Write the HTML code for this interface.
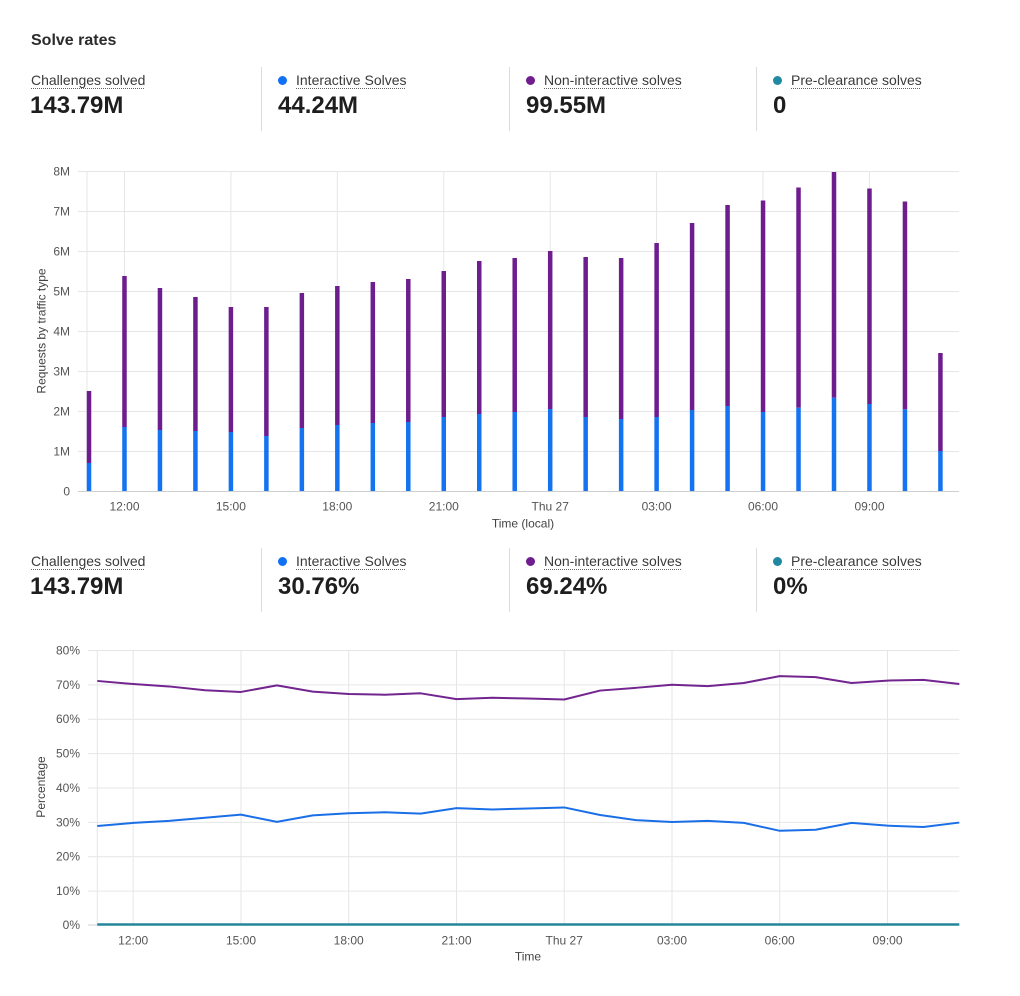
<!DOCTYPE html>
<html><head><meta charset="utf-8"><style>
html,body{margin:0;padding:0;background:#fff;}
body{width:1020px;height:996px;position:relative;overflow:hidden;font-family:"Liberation Sans",sans-serif;color:#222;}
.t{position:absolute;white-space:nowrap;}
.title{left:31px;top:31px;font-size:16px;line-height:20px;font-weight:bold;color:#2b2b2b;}
.lab{font-size:14px;line-height:16px;color:#3a3a3a;text-decoration:underline dotted #666;text-underline-offset:3px;text-decoration-thickness:1px;}
.val{font-size:24px;line-height:28px;font-weight:bold;color:#1e1e1e;}
.sep{position:absolute;width:1px;background:#dcdcdc;height:64px;}
.dot{position:absolute;width:9px;height:9px;border-radius:50%;}
svg{position:absolute;left:0;top:0;}
svg text{font-family:"Liberation Sans",sans-serif;}
</style></head><body>
<div class="t title">Solve rates</div>

<!-- row 1 -->
<div class="t lab" style="left:31px;top:71.5px;">Challenges solved</div>
<div class="t val" style="left:30px;top:92px;">143.79M</div>
<div class="sep" style="left:261px;top:67px;"></div>
<div class="dot" style="left:278px;top:75.5px;background:#1170f4;"></div>
<div class="t lab" style="left:296px;top:71.5px;">Interactive Solves</div>
<div class="t val" style="left:278px;top:92px;">44.24M</div>
<div class="sep" style="left:509px;top:67px;"></div>
<div class="dot" style="left:526px;top:75.5px;background:#6f1d8f;"></div>
<div class="t lab" style="left:544px;top:71.5px;">Non-interactive solves</div>
<div class="t val" style="left:526px;top:92px;">99.55M</div>
<div class="sep" style="left:756px;top:67px;"></div>
<div class="dot" style="left:773px;top:75.5px;background:#2089a1;"></div>
<div class="t lab" style="left:791px;top:71.5px;">Pre-clearance solves</div>
<div class="t val" style="left:773px;top:92px;">0</div>

<!-- row 2 -->
<div class="t lab" style="left:31px;top:552.5px;">Challenges solved</div>
<div class="t val" style="left:30px;top:573px;">143.79M</div>
<div class="sep" style="left:261px;top:548px;"></div>
<div class="dot" style="left:278px;top:556.5px;background:#1170f4;"></div>
<div class="t lab" style="left:296px;top:552.5px;">Interactive Solves</div>
<div class="t val" style="left:278px;top:573px;">30.76%</div>
<div class="sep" style="left:509px;top:548px;"></div>
<div class="dot" style="left:526px;top:556.5px;background:#6f1d8f;"></div>
<div class="t lab" style="left:544px;top:552.5px;">Non-interactive solves</div>
<div class="t val" style="left:526px;top:573px;">69.24%</div>
<div class="sep" style="left:756px;top:548px;"></div>
<div class="dot" style="left:773px;top:556.5px;background:#2089a1;"></div>
<div class="t lab" style="left:791px;top:552.5px;">Pre-clearance solves</div>
<div class="t val" style="left:773px;top:573px;">0%</div>

<svg width="1020" height="996" viewBox="0 0 1020 996" xmlns="http://www.w3.org/2000/svg">
<!-- TOP CHART -->
<g stroke="#e6e6e6" stroke-width="1">
<line x1="78" y1="171.5" x2="959" y2="171.5"/>
<line x1="78" y1="211.5" x2="959" y2="211.5"/>
<line x1="78" y1="251.5" x2="959" y2="251.5"/>
<line x1="78" y1="291.5" x2="959" y2="291.5"/>
<line x1="78" y1="331.5" x2="959" y2="331.5"/>
<line x1="78" y1="371.5" x2="959" y2="371.5"/>
<line x1="78" y1="411.5" x2="959" y2="411.5"/>
<line x1="78" y1="451.5" x2="959" y2="451.5"/>
<line x1="87" y1="171" x2="87" y2="491"/>
<line x1="124.5" y1="171" x2="124.5" y2="491"/>
<line x1="230.9" y1="171" x2="230.9" y2="491"/>
<line x1="337.3" y1="171" x2="337.3" y2="491"/>
<line x1="443.8" y1="171" x2="443.8" y2="491"/>
<line x1="550.2" y1="171" x2="550.2" y2="491"/>
<line x1="656.6" y1="171" x2="656.6" y2="491"/>
<line x1="763" y1="171" x2="763" y2="491"/>
<line x1="869.5" y1="171" x2="869.5" y2="491"/>
</g>
<line x1="78" y1="491.5" x2="959" y2="491.5" stroke="#cfcfcf" stroke-width="1"/>
<g font-size="12" fill="#555" text-anchor="end">
<text x="70" y="175.5">8M</text>
<text x="70" y="215.5">7M</text>
<text x="70" y="255.5">6M</text>
<text x="70" y="295.5">5M</text>
<text x="70" y="335.5">4M</text>
<text x="70" y="375.5">3M</text>
<text x="70" y="415.5">2M</text>
<text x="70" y="455.5">1M</text>
<text x="70" y="495.5">0</text>
</g>
<g font-size="12" fill="#555" text-anchor="middle">
<text x="124.5" y="510.5">12:00</text>
<text x="230.9" y="510.5">15:00</text>
<text x="337.3" y="510.5">18:00</text>
<text x="443.8" y="510.5">21:00</text>
<text x="550.2" y="510.5">Thu 27</text>
<text x="656.6" y="510.5">03:00</text>
<text x="763" y="510.5">06:00</text>
<text x="869.5" y="510.5">09:00</text>
<text x="523" y="527.5" fill="#444">Time (local)</text>
<text transform="translate(45.5,331) rotate(-90)" fill="#444">Requests by traffic type</text>
</g>
<!-- bars -->
<g fill="#6e1d8f">
<rect x="86.75" y="391" width="4.5" height="72"/>
<rect x="122.23" y="276" width="4.5" height="151"/>
<rect x="157.70" y="288" width="4.5" height="142"/>
<rect x="193.18" y="297" width="4.5" height="134"/>
<rect x="228.65" y="307" width="4.5" height="125"/>
<rect x="264.13" y="307" width="4.5" height="129"/>
<rect x="299.61" y="293" width="4.5" height="135"/>
<rect x="335.08" y="286" width="4.5" height="139"/>
<rect x="370.56" y="282" width="4.5" height="141"/>
<rect x="406.03" y="279" width="4.5" height="143"/>
<rect x="441.51" y="271" width="4.5" height="146"/>
<rect x="476.99" y="261" width="4.5" height="153"/>
<rect x="512.46" y="258" width="4.5" height="154"/>
<rect x="547.94" y="251" width="4.5" height="158"/>
<rect x="583.41" y="257" width="4.5" height="160"/>
<rect x="618.89" y="258" width="4.5" height="161"/>
<rect x="654.37" y="243" width="4.5" height="174"/>
<rect x="689.84" y="223" width="4.5" height="187"/>
<rect x="725.32" y="205" width="4.5" height="201"/>
<rect x="760.79" y="200.5" width="4.5" height="211.5"/>
<rect x="796.27" y="187.5" width="4.5" height="220.2"/>
<rect x="831.75" y="172" width="4.5" height="225.7"/>
<rect x="867.22" y="188.5" width="4.5" height="215.5"/>
<rect x="902.70" y="201.5" width="4.5" height="207.8"/>
<rect x="938.17" y="353" width="4.5" height="98"/>
</g>
<g fill="#1473f0">
<rect x="86.75" y="463" width="4.5" height="28"/>
<rect x="122.23" y="427" width="4.5" height="64"/>
<rect x="157.70" y="430" width="4.5" height="61"/>
<rect x="193.18" y="431" width="4.5" height="60"/>
<rect x="228.65" y="432" width="4.5" height="59"/>
<rect x="264.13" y="436" width="4.5" height="55"/>
<rect x="299.61" y="428" width="4.5" height="63"/>
<rect x="335.08" y="425" width="4.5" height="66"/>
<rect x="370.56" y="423" width="4.5" height="68"/>
<rect x="406.03" y="422" width="4.5" height="69"/>
<rect x="441.51" y="417" width="4.5" height="74"/>
<rect x="476.99" y="414" width="4.5" height="77"/>
<rect x="512.46" y="412" width="4.5" height="79"/>
<rect x="547.94" y="409" width="4.5" height="82"/>
<rect x="583.41" y="417" width="4.5" height="74"/>
<rect x="618.89" y="419" width="4.5" height="72"/>
<rect x="654.37" y="417" width="4.5" height="74"/>
<rect x="689.84" y="410" width="4.5" height="81"/>
<rect x="725.32" y="406" width="4.5" height="85"/>
<rect x="760.79" y="412" width="4.5" height="79"/>
<rect x="796.27" y="407.7" width="4.5" height="83.3"/>
<rect x="831.75" y="397.7" width="4.5" height="93.3"/>
<rect x="867.22" y="404" width="4.5" height="87"/>
<rect x="902.70" y="409.3" width="4.5" height="81.7"/>
<rect x="938.17" y="451" width="4.5" height="40"/>
</g>

<!-- BOTTOM CHART -->
<g stroke="#e6e6e6" stroke-width="1">
<line x1="88" y1="650.5" x2="959.3" y2="650.5"/>
<line x1="88" y1="684.9" x2="959.3" y2="684.9"/>
<line x1="88" y1="719.2" x2="959.3" y2="719.2"/>
<line x1="88" y1="753.6" x2="959.3" y2="753.6"/>
<line x1="88" y1="788" x2="959.3" y2="788"/>
<line x1="88" y1="822.4" x2="959.3" y2="822.4"/>
<line x1="88" y1="856.7" x2="959.3" y2="856.7"/>
<line x1="88" y1="891.1" x2="959.3" y2="891.1"/>
<line x1="97.3" y1="650" x2="97.3" y2="925"/>
<line x1="133.2" y1="650" x2="133.2" y2="925"/>
<line x1="241" y1="650" x2="241" y2="925"/>
<line x1="348.7" y1="650" x2="348.7" y2="925"/>
<line x1="456.5" y1="650" x2="456.5" y2="925"/>
<line x1="564.2" y1="650" x2="564.2" y2="925"/>
<line x1="672" y1="650" x2="672" y2="925"/>
<line x1="779.7" y1="650" x2="779.7" y2="925"/>
<line x1="887.5" y1="650" x2="887.5" y2="925"/>
</g>
<line x1="88" y1="925" x2="959.3" y2="925" stroke="#cfcfcf" stroke-width="1"/>
<g font-size="12" fill="#555" text-anchor="end">
<text x="80" y="654.5">80%</text>
<text x="80" y="688.9">70%</text>
<text x="80" y="723.2">60%</text>
<text x="80" y="757.6">50%</text>
<text x="80" y="792">40%</text>
<text x="80" y="826.4">30%</text>
<text x="80" y="860.7">20%</text>
<text x="80" y="895.1">10%</text>
<text x="80" y="929">0%</text>
</g>
<g font-size="12" fill="#555" text-anchor="middle">
<text x="133.2" y="944.5">12:00</text>
<text x="241" y="944.5">15:00</text>
<text x="348.7" y="944.5">18:00</text>
<text x="456.5" y="944.5">21:00</text>
<text x="564.2" y="944.5">Thu 27</text>
<text x="672" y="944.5">03:00</text>
<text x="779.7" y="944.5">06:00</text>
<text x="887.5" y="944.5">09:00</text>
<text x="528" y="960.5" fill="#444">Time</text>
<text transform="translate(45,787) rotate(-90)" fill="#444">Percentage</text>
</g>
<polyline fill="none" stroke="#72248f" stroke-width="2" stroke-linejoin="round" points="97.3,680.94 133.22,684.03 169.13,686.44 205.05,690.22 240.97,691.94 276.89,685.41 312.80,691.59 348.72,694.0 384.64,694.69 420.55,693.31 456.47,699.16 492.39,697.78 528.30,698.47 564.22,699.5 600.14,690.56 636.06,687.81 671.97,684.72 707.89,686.09 743.81,683.0 779.72,676.12 815.64,677.16 851.56,683.0 887.47,680.59 923.39,679.91 959.31,684.03"/>
<polyline fill="none" stroke="#1a6fe6" stroke-width="2" stroke-linejoin="round" points="97.3,826.0 133.22,822.91 169.13,820.84 205.05,817.75 240.97,814.66 276.89,821.87 312.80,815.34 348.72,813.28 384.64,812.25 420.55,813.62 456.47,808.12 492.39,809.5 528.30,808.47 564.22,807.44 600.14,815.0 636.06,820.16 671.97,822.05 707.89,820.84 743.81,822.91 779.72,830.81 815.64,829.78 851.56,822.91 887.47,825.66 923.39,827.03 959.31,822.56"/>
<line x1="97.3" y1="924.5" x2="959.3" y2="924.5" stroke="#23869a" stroke-width="2.5"/>
</svg>
</body></html>
